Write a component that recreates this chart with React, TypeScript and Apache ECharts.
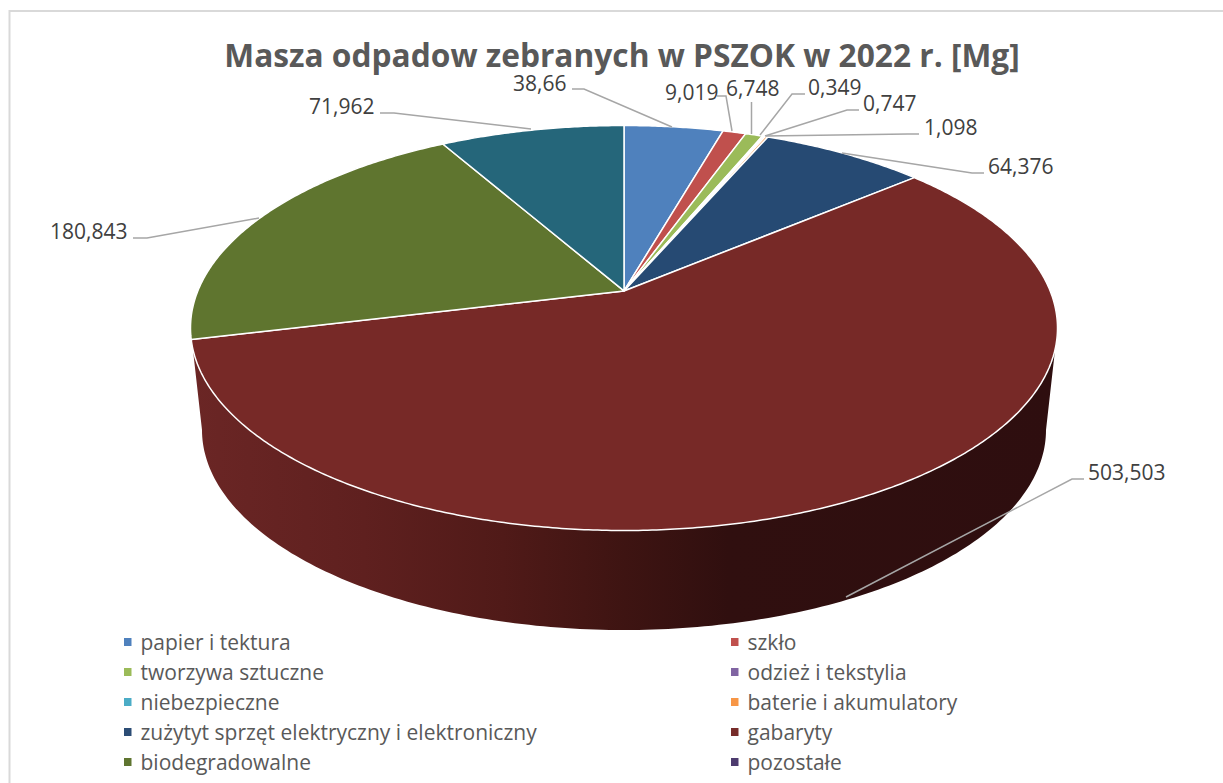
import React, { useEffect, useRef } from "react";
import * as echarts from "echarts";

const titleText = "Masza odpadow zebranych w PSZOK w 2022 r. [Mg]";
const categories = [
  "papier i tektura", "szkło", "tworzywa sztuczne", "odzież i tekstylia", "niebezpieczne",
  "baterie i akumulatory", "zużytyt sprzęt elektryczny i elektroniczny", "gabaryty", "biodegradowalne", "pozostałe",
];
const values = [38.66, 9.019, 6.748, 0.349, 0.747, 1.098, 64.376, 503.503, 180.843, 71.962];
const valueLabels = ["38,66", "9,019", "6,748", "0,349", "0,747", "1,098", "64,376", "503,503", "180,843", "71,962"];
const sliceColors = ["#4f81bd", "#c0504d", "#9bbb59", "#8064a2", "#4bacc6", "#f79646", "#264a73", "#772927", "#5f752f", "#25667a"];
const legendColors = ["#4f81bd", "#c0504d", "#9bbb59", "#8064a2", "#4bacc6", "#f79646", "#2c4d75", "#772c2a", "#5f7530", "#4d3b6e"];

// label layout: text left x, text centre y, leader polyline
const labelLayout: { x: number; y: number; line: number[][] }[] = [
  { x: 513, y: 83, line: [[572, 89], [584, 89], [672, 127]] },
  { x: 665, y: 92, line: [[717, 96], [726, 96], [732, 131]] },
  { x: 726, y: 88, line: [[751.5, 102], [751.5, 134]] },
  { x: 808, y: 87, line: [[805, 94], [792, 94], [760, 135]] },
  { x: 863, y: 103, line: [[859, 110], [847, 110], [765, 136]] },
  { x: 924, y: 127, line: [[919, 134], [908, 134], [766, 136]] },
  { x: 988, y: 166, line: [[984, 173], [972, 173], [842, 153]] },
  { x: 1088, y: 472, line: [[1084, 479], [1072, 479], [846, 597]] },
  { x: 50, y: 231, line: [[133, 238], [147, 238], [259, 218]] },
  { x: 309, y: 106, line: [[380, 113], [394, 113], [531, 129]] },
];

const W = 1223, H = 783;
const TOP = { cx: 624, cy: 328, rx: 433.5, ry: 202.5, persp: -0.183 };
const BASE = { cx: 624, cy: 430, rx: 422, ry: 200 };
const FONT = "'Open Sans', sans-serif";

const total = values.reduce((s, v) => s + v, 0);
const project = (deg: number) => {
  const t = (deg * Math.PI) / 180;
  const X = Math.sin(t), Y = -Math.cos(t), a = TOP.persp;
  const d = 1 + a * Y;
  return [TOP.cx + (TOP.rx * X * Math.sqrt(1 - a * a)) / d, TOP.cy + (TOP.ry * (Y + a)) / d];
};
const slicePath = (index: number) => {
  const start = (values.slice(0, index).reduce((s, v) => s + v, 0) / total) * 360;
  const sweep = (values[index] / total) * 360;
  const steps = Math.max(2, Math.ceil(sweep * 2));
  const centre = [TOP.cx, TOP.cy + TOP.ry * TOP.persp];
  let d = `M${centre[0]} ${centre[1]}`;
  for (let i = 0; i <= steps; i++) {
    const p = project(start + (sweep * i) / steps);
    d += `L${p[0].toFixed(2)} ${p[1].toFixed(2)}`;
  }
  return d + "Z";
};
const wallPath = () => {
  let d = `M${TOP.cx + TOP.rx} ${TOP.cy}L${BASE.cx + BASE.rx} ${BASE.cy}`;
  for (let a = 0; a <= 180; a += 1) {
    const t = (a * Math.PI) / 180;
    d += `L${(BASE.cx + BASE.rx * Math.cos(t)).toFixed(2)} ${(BASE.cy + BASE.ry * Math.sin(t)).toFixed(2)}`;
  }
  return d + `L${TOP.cx - TOP.rx} ${TOP.cy}Z`;
};

export default function App() {
  const ref = useRef<HTMLDivElement>(null);
  useEffect(() => {
    const chart = echarts.init(ref.current!, undefined, { renderer: "svg" });
    const legendBase = {
      orient: "vertical" as const,
      icon: "rect",
      itemWidth: 7.5,
      itemHeight: 8,
      itemGap: 8,
      padding: 0,
      selectedMode: false,
      textStyle: { fontFamily: FONT, fontSize: 21, lineHeight: 22, color: "#595959", padding: [0, 0, 0, 4] },
    };
    chart.setOption({
      animation: false,
      backgroundColor: "#ffffff",
      title: {
        text: titleText,
        left: 617,
        top: 36.85,
        textAlign: "center",
        textStyle: { fontFamily: FONT, fontWeight: "bold", fontSize: 31.7, lineHeight: 26, color: "#595959" },
      },
      legend: [
        { ...legendBase, left: 124, top: 631, data: categories.filter((_, i) => i % 2 === 0) },
        { ...legendBase, left: 731, top: 631, data: categories.filter((_, i) => i % 2 === 1) },
      ],
      graphic: [
        {
          type: "polyline",
          shape: { points: [[9.5, 783], [9.5, 11], [1223, 11]] },
          style: { fill: "none", stroke: "#d9d9d9", lineWidth: 2 },
          z: -1,
        },
      ],
      series: [
        {
          type: "custom",
          name: "wall",
          coordinateSystem: "none",
          silent: true,
          data: [values[7]],
          renderItem: () => ({
            type: "path",
            shape: { pathData: wallPath() },
            style: {
              fill: new echarts.graphic.LinearGradient(0, 0, 1, 0, [
                { offset: 0, color: "#6b2625" },
                { offset: 0.2, color: "#5f201f" },
                { offset: 0.36, color: "#501a18" },
                { offset: 0.5, color: "#3e1412" },
                { offset: 0.62, color: "#300f0f" },
                { offset: 1, color: "#2e0e0f" },
              ]),
            },
          }),
        },
        ...categories.map((name, i) => ({
          type: "custom",
          name,
          coordinateSystem: "none",
          silent: true,
          itemStyle: { color: legendColors[i] },
          data: [values[i]],
          renderItem: () => ({
            type: "path",
            shape: { pathData: slicePath(i) },
            style: { fill: sliceColors[i], stroke: "#ffffff", lineWidth: 1.5, lineJoin: "round" },
          }),
        })),
        {
          type: "custom",
          name: "labels",
          coordinateSystem: "none",
          silent: true,
          data: valueLabels,
          renderItem: (params: any) => {
            const i = params.dataIndex;
            const l = labelLayout[i];
            return {
              type: "group",
              children: [
                {
                  type: "polyline",
                  shape: { points: l.line },
                  style: { fill: "none", stroke: "#a6a6a6", lineWidth: 1.5 },
                },
                {
                  type: "text",
                  x: l.x,
                  y: l.y,
                  style: {
                    text: valueLabels[i],
                    fontFamily: FONT,
                    fontSize: 21,
                    fill: "#404040",
                    align: "left",
                    verticalAlign: "middle",
                  },
                },
              ],
            };
          },
        },
      ],
    });
    return () => chart.dispose();
  }, []);
  return <div ref={ref} style={{ position: "absolute", left: 0, top: 0, width: W, height: H, overflow: "hidden" }} />;
}
